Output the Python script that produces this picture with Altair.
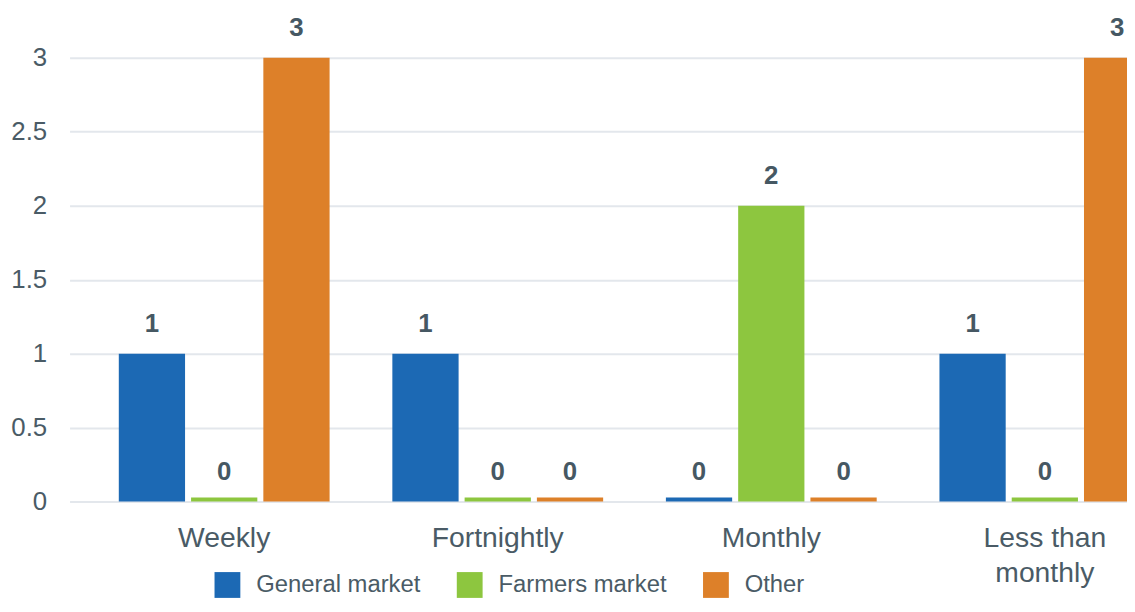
import altair as alt
import pandas as pd

categories = ["Weekly", "Fortnightly", "Monthly", "Less than monthly"]
series = ["General market", "Farmers market", "Other"]
general_market = [1, 1, 0, 1]
farmers_market = [0, 0, 2, 0]
other = [3, 0, 0, 3]
colors = ["#1c69b4", "#8dc63f", "#dd8029"]
y_ticks = [0, 0.5, 1, 1.5, 2, 2.5, 3]

FONT = "Liberation Sans, Arial, Helvetica, sans-serif"
TEXT = "#4a5b66"
LABEL = "#465863"

rows = []
for s, vals in zip(series, [general_market, farmers_market, other]):
    for c, v in zip(categories, vals):
        rows.append({"category": c, "series": s, "value": v})
df = pd.DataFrame(rows)

x_enc = alt.X(
    "category:N",
    sort=categories,
    scale=alt.Scale(paddingInner=0.2294, paddingOuter=0.18, range=[0, 1138]),
    axis=alt.Axis(
        title=None, domain=False, ticks=False, tickSize=0, labelAngle=0,
        labelPadding=22, labelFontSize=28.5, labelColor=TEXT, labelFont=FONT,
        labelLimit=400, labelLineHeight=35, labelBaseline="top",
        labelExpr="datum.label == 'Less than monthly' ? ['Less than', 'monthly'] : datum.label",
    ),
)
xo_enc = alt.XOffset("series:N", sort=series,
                     scale=alt.Scale(paddingInner=0.0833, paddingOuter=0))
y_scale = alt.Scale(domain=[0, 3], nice=False)
color_enc = alt.Color(
    "series:N", sort=series,
    scale=alt.Scale(domain=series, range=colors),
    legend=alt.Legend(
        title=None, orient="none", legendX=146, legendY=518,
        direction="horizontal", symbolType="square", symbolSize=676,
        symbolStrokeWidth=0, symbolOpacity=1, labelFontSize=24,
        labelFont=FONT, labelColor=TEXT, labelOffset=16, columnPadding=36,
        labelLimit=400, padding=0,
    ),
)

base = alt.Chart(df).encode(x=x_enc, xOffset=xo_enc)

bars = base.mark_bar().encode(
    y=alt.Y(
        "value:Q", scale=y_scale,
        axis=alt.Axis(
            title=None, domain=False, ticks=False, tickSize=0, values=y_ticks,
            format="~g", grid=True, gridColor="#e3e7ec", gridWidth=2,
            labelPadding=23, labelFontSize=26, labelColor=TEXT, labelFont=FONT,
        ),
    ),
    color=color_enc,
)

zero_bars = base.transform_filter("datum.value == 0").mark_bar(yOffset=-4).encode(
    y=alt.Y("value:Q", scale=y_scale),
    y2=alt.datum(0),
    color=color_enc,
)

labels = base.mark_text(
    baseline="alphabetic", dy=-22, fontSize=26, fontWeight="bold",
    color=LABEL, font=FONT,
).encode(
    y=alt.Y("value:Q", scale=y_scale),
    text=alt.Text("value:Q"),
)

chart = alt.layer(bars, zero_bars, labels).properties(
    width=1065, height=447,
    autosize=alt.AutoSizeParams(type="none"),
    padding={"left": 62, "top": 48, "right": 0, "bottom": 97},
).configure_view(stroke=None)

chart.save("out.html", embed_options={"renderer": "svg", "actions": False})
